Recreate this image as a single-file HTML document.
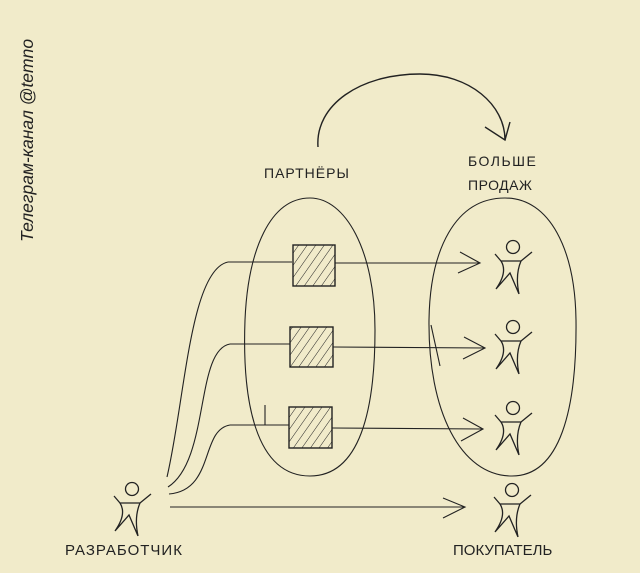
<!DOCTYPE html>
<html><head><meta charset="utf-8"><style>
html,body{margin:0;padding:0;background:#f1ebca;}
svg{display:block}
text{font-family:"Liberation Sans",sans-serif;fill:#222}
</style></head><body>
<svg width="640" height="573" viewBox="0 0 640 573" xmlns="http://www.w3.org/2000/svg">
<defs>
<pattern id="h" width="7" height="7" patternUnits="userSpaceOnUse" patternTransform="rotate(35)">
<line x1="0" y1="0" x2="0" y2="7" stroke="#222" stroke-width="1"/>
</pattern>
<g id="fig" fill="none" stroke="#222" stroke-width="1.3">
<circle cx="0" cy="0" r="6.5"/>
<path d="M-18,7 L-12,14 L8,14 L19,5"/>
<path d="M-12,14 Q-5,25 -17,42 M-17,42 L-3,26 L6,47 M8,14 Q2,28 6,47"/>
</g>
</defs>
<rect width="640" height="573" fill="#f1ebca"/>
<text transform="translate(33,242) rotate(-90)" font-size="17.5" font-style="italic" fill="#333">Телеграм-канал @temno</text>
<g fill="none" stroke="#222" stroke-width="1.4">
<path d="M318,147 C315,105 360,74 420,74 C470,74 505,105 505,140"/>
<path d="M485,127 L505,140 L510,122"/>
<path d="M310,198 C270,198 248,250 245,320 C242,400 255,476 310,476 C360,476 375,410 375,330 C375,250 345,198 310,198 Z" stroke-width="1.1"/>
<path d="M505,198 C455,198 430,250 429,320 C428,410 460,476 512,476 C560,476 577,410 576,320 C575,250 550,198 505,198 Z" stroke-width="1.1"/>
<g stroke-width="1.1">
<path d="M228,262 L292,262 M335,263 L480,263"/>
<path d="M460,252 L480,263 L458,273"/>
<path d="M230,344 L290,344 M333,347 L485,348"/>
<path d="M464,337 L485,348 L463,359"/>
<path d="M230,425 L289,425 M332,428 L483,429"/>
<path d="M463,418 L483,429 L461,441"/>
<path d="M170,507 L465,507"/>
<path d="M443,498 L465,507 L443,518"/>
<path d="M265,405 L265,425"/>
<path d="M431,325 L440,366"/>
<path d="M167,477 C185,400 190,270 228,262"/>
<path d="M168,487 C210,460 195,350 230,344"/>
<path d="M169,494 C215,490 200,430 230,425"/>
</g>
</g>
<rect x="293" y="245" width="42" height="41" fill="url(#h)" stroke="#222" stroke-width="1.4"/>
<rect x="290" y="327" width="43" height="40" fill="url(#h)" stroke="#222" stroke-width="1.4"/>
<rect x="289" y="407" width="43" height="41" fill="url(#h)" stroke="#222" stroke-width="1.4"/>
<use href="#fig" x="513" y="247"/>
<use href="#fig" x="513" y="327"/>
<use href="#fig" x="513" y="408"/>
<use href="#fig" x="512" y="490"/>
<use href="#fig" x="132" y="489"/>
<text x="264" y="178" font-size="14" letter-spacing="1">ПАРТНЁРЫ</text>
<text x="468" y="166" font-size="14" letter-spacing="1.5">БОЛЬШЕ</text>
<text x="468" y="190" font-size="14" letter-spacing="0.5">ПРОДАЖ</text>
<text x="65" y="555" font-size="15" letter-spacing="1">РАЗРАБОТЧИК</text>
<text x="453" y="555" font-size="15" letter-spacing="0">ПОКУПАТЕЛЬ</text>
</svg>
</body></html>
